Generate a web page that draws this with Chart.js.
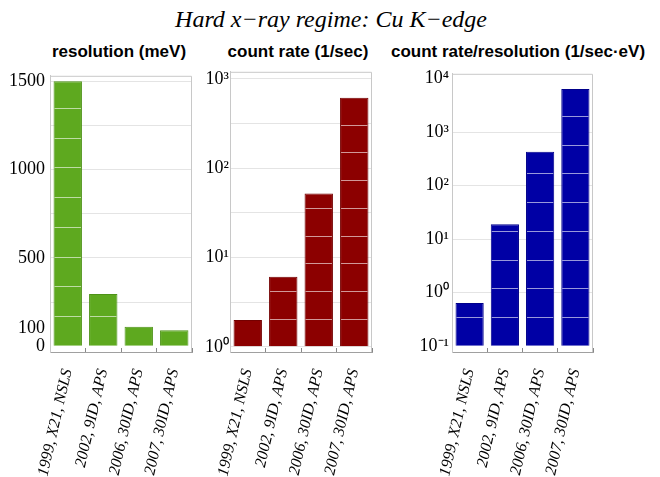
<!DOCTYPE html>
<html>
<head>
<meta charset="utf-8">
<script src="https://cdn.jsdelivr.net/npm/chart.js@4.4.1/dist/chart.umd.min.js"></script>
<style>
  body { margin: 0; width: 660px; height: 477px; background: #fff; position: relative; overflow: hidden; }
  .title { position: absolute; top: 7px; left: 1px; width: 660px; text-align: center; font: italic 24px/24px 'Liberation Serif', serif; }
  .ptitle { position: absolute; top: 43px; width: 400px; text-align: center; font: bold 17px/17px 'Liberation Sans', Arial, sans-serif; }
  .panel { position: absolute; top: 60px; height: 417px; }
</style>
</head>
<body>
<div class="title">Hard x−ray regime: Cu K−edge</div>
<div class="ptitle" style="left:-81px">resolution (meV)</div>
<div class="ptitle" style="left:98px">count rate (1/sec)</div>
<div class="ptitle" style="left:318px">count rate/resolution (1/sec·eV)</div>
<div class="panel" style="left:0;width:200px"><canvas id="resChart"></canvas></div>
<div class="panel" style="left:198px;width:182px"><canvas id="rateChart"></canvas></div>
<div class="panel" style="left:400px;width:200px"><canvas id="ratioChart"></canvas></div>
<script>
// Data
const sources = ['1999, X21, NSLS', '2002, 9ID, APS', '2006, 30ID, APS', '2007, 30ID, APS'];
const resolution = [1500, 295, 110, 90];       // meV
const countRate = [2.0, 6.1, 52, 615];         // 1/sec
const countPerRes = [0.64, 19, 430, 6400];     // 1/sec.eV

// Tick labels and grid values
const resolutionTicks = [0, 100, 500, 1000, 1500];
const resolutionGrid = [250, 500, 750, 1000, 1250, 1500];
const countRateTicks = [1, 10, 100, 1000];
const countRateGrid = [1, 3.162, 10, 31.62, 100, 316.2, 1000];
const countPerResTicks = [0.1, 1, 10, 100, 1000, 10000];
const countPerResGrid = [1, 10, 100, 1000];

const SUP = { '-': '⁻', '0': '⁰', '1': '¹', '2': '²', '3': '³', '4': '⁴', '5': '⁵', '6': '⁶', '7': '⁷', '8': '⁸', '9': '⁹' };
function powerLabel(v) {
    const e = Math.round(Math.log10(v)).toString();
    return '10' + e.split('').map(c => SUP[c]).join('');
}

// light frame round the plot area (top + right)
const framePlugin = {
    id: 'frame',
    afterDraw(chart) {
        const { ctx, chartArea: a } = chart;
        ctx.save();
        ctx.strokeStyle = '#c8c8c8';
        ctx.lineWidth = 1;
        ctx.beginPath();
        ctx.moveTo(a.left, a.top + 0.5);
        ctx.lineTo(a.right - 0.5, a.top + 0.5);
        ctx.lineTo(a.right - 0.5, a.bottom);
        ctx.stroke();
        ctx.restore();
    }
};

// the thin light stripes that run across the bars in the original
function stripePlugin(step) {
    return {
        id: 'stripes',
        afterDatasetsDraw(chart) {
            const { ctx } = chart;
            ctx.save();
            ctx.strokeStyle = 'rgba(255,255,255,0.6)';
            ctx.lineWidth = 1;
            chart.getDatasetMeta(0).data.forEach(bar => {
                const p = bar.getProps(['x', 'y', 'base', 'width'], true);
                for (let yy = p.base - step; yy > p.y + 3; yy -= step) {
                    ctx.beginPath();
                    ctx.moveTo(p.x - p.width / 2 + 1, Math.round(yy) + 0.5);
                    ctx.lineTo(p.x + p.width / 2 - 1, Math.round(yy) + 0.5);
                    ctx.stroke();
                }
            });
            ctx.restore();
        }
    };
}

function makeChart(id, opts) {
    const yScale = {
        type: opts.type,
        min: opts.min,
        max: opts.max,
        afterFit: s => { s.width = opts.axisWidth; },
        afterBuildTicks: s => {
            const vals = [...new Set(opts.ticks.concat(opts.grid))].sort((a, b) => a - b);
            s.ticks = vals.map(v => ({ value: v }));
        },
        border: { color: '#c8c8c8' },
        grid: {
            drawTicks: false,
            color: c => opts.grid.includes(c.tick && c.tick.value) ? '#e4e4e4' : 'rgba(0,0,0,0)'
        },
        ticks: {
            padding: opts.tickPad,
            color: '#000',
            font: { family: "'Liberation Serif', serif", size: 18 },
            callback: v => opts.ticks.includes(v) ? (opts.type === 'logarithmic' ? powerLabel(v) : String(v)) : ''
        }
    };

    return new Chart(document.getElementById(id).getContext('2d'), {
        type: 'bar',
        data: {
            labels: sources,
            datasets: [{
                data: opts.values,
                base: opts.base,
                backgroundColor: opts.color,
                borderColor: opts.edge,
                borderWidth: 1,
                barPercentage: 0.8,
                categoryPercentage: 1.0
            }]
        },
        options: {
            responsive: true,
            maintainAspectRatio: false,
            animation: false,
            layout: { autoPadding: false, padding: { top: 5, right: opts.padRight, bottom: 0, left: 0 } },
            scales: {
                x: {
                    afterFit: s => { s.height = 125; s.paddingLeft = 0; s.paddingRight = 0; },
                    border: { color: '#a0a0a0' },
                    grid: { offset: true, drawOnChartArea: false, tickLength: -4, color: '#888' },
                    ticks: {
                        autoSkip: false,
                        minRotation: 77,
                        maxRotation: 77,
                        padding: 19,
                        color: '#000',
                        font: { family: "'Liberation Serif', serif", style: 'italic', size: 16 }
                    }
                },
                y: yScale
            },
            plugins: { legend: { display: false }, tooltip: { enabled: false } }
        },
        plugins: [framePlugin, stripePlugin(opts.stripe)]
    });
}

makeChart('resChart', {
    type: 'linear', min: -33, max: 1531, values: resolution, base: 0,
    ticks: resolutionTicks, grid: resolutionGrid,
    axisWidth: 50, tickPad: 5, padRight: 8, stripe: 29.7,
    color: '#5ea91f', edge: '#4e9318'
});

makeChart('rateChart', {
    type: 'logarithmic', min: 0.875, max: 1202, values: countRate, base: 1,
    ticks: countRateTicks, grid: countRateGrid,
    axisWidth: 32, tickPad: 1, padRight: 8, stripe: 27.7,
    color: '#8c0000', edge: '#740000'
});

makeChart('ratioChart', {
    type: 'logarithmic', min: 0.0778, max: 12300, values: countPerRes, base: 0.1,
    ticks: countPerResTicks, grid: countPerResGrid,
    axisWidth: 52, tickPad: 3, padRight: 7, stripe: 28.7,
    color: '#0000a5', edge: '#00008a'
});
</script>
</body>
</html>
